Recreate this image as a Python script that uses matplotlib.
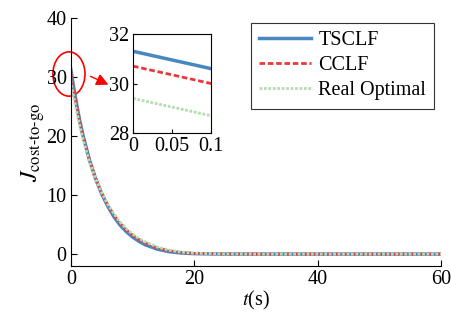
import numpy as np
import matplotlib
matplotlib.use('Agg')
import matplotlib.pyplot as plt
from matplotlib.patches import Ellipse

# data
t = [0, 0.05, 0.1, 0.5, 1, 1.5, 2, 3, 4, 5, 6, 7, 8, 9, 10, 11, 12, 14, 16, 18, 20, 25, 30, 40, 50, 60]
tsclf = [31.3, 30.95, 30.6, 28.0, 25.0, 22.3, 20.0, 16.0, 12.8, 10.2, 8.1, 6.3, 4.9, 3.8, 2.9, 2.2, 1.6,
         0.85, 0.4, 0.18, 0.08, 0.01, 0, 0, 0, 0]
cclf = [30.7, 30.35, 30.0, 27.6, 24.8, 22.2, 19.9, 16.0, 12.9, 10.4, 8.3, 6.6, 5.2, 4.1, 3.2, 2.5, 1.9,
        1.05, 0.55, 0.25, 0.12, 0.02, 0, 0, 0, 0]
real_opt = [29.4, 29.05, 28.7, 26.5, 23.9, 21.5, 19.4, 15.7, 12.8, 10.4, 8.4, 6.8, 5.4, 4.3, 3.4, 2.7, 2.1,
            1.2, 0.65, 0.32, 0.15, 0.03, 0, 0, 0, 0]
labels = ["TSCLF", "CCLF", "Real Optimal"]

plt.rcParams['font.family'] = ['Liberation Serif', 'DejaVu Serif']
plt.rcParams['mathtext.fontset'] = 'stix'
plt.rcParams['font.size'] = 14.5

blue = "#4a86c0"
red = "#e8383d"
green = "#b5dcb0"

fig = plt.figure(figsize=(4.51, 3.20), dpi=100)
ax = fig.add_axes([0.157, 0.169, 0.821, 0.775])

def draw(a):
    l1, = a.plot(t, tsclf, color=blue, lw=2.5, label=labels[0])
    l2, = a.plot(t, cclf, color=red, lw=2.0, ls=(0, (2, 1)), label=labels[1])
    l3, = a.plot(t, real_opt, color=green, lw=2.0, ls=(0, (1, 0.6)), label=labels[2])
    return l1, l2, l3

lines = draw(ax)
ax.set_xlim(0, 60)
ax.set_ylim(-2, 40)
ax.set_xticks([0, 20, 40, 60])
ax.set_yticks([0, 10, 20, 30, 40])
ax.spines['top'].set_visible(False)
ax.spines['right'].set_visible(False)
ax.tick_params(direction='in', length=4, pad=3)
ax.set_xlabel(r'$t$(s)', labelpad=0)
ax.set_ylabel(r'$J_{\mathrm{cost}\text{-}\mathrm{to}\text{-}\mathrm{go}}$', fontsize=17, labelpad=0)

leg = ax.legend(handles=lines, loc='upper right', bbox_to_anchor=(0.963, 0.928),
                bbox_transform=fig.transFigure, fancybox=False, edgecolor='#333333',
                framealpha=1, handlelength=2.6, handletextpad=0.35, borderpad=0.4,
                labelspacing=0.3, borderaxespad=0)
leg.get_frame().set_linewidth(0.8)

# red circle and arrow
ell = Ellipse((-0.3, 30.5), 5.2, 7.5, fill=False, edgecolor='red', lw=1.2, clip_on=False)
ax.add_patch(ell)
ax.annotate('', xy=(6.5, 28.5), xytext=(2.8, 30.3),
            arrowprops=dict(arrowstyle='-|>', color='red', lw=1.0, mutation_scale=18),
            annotation_clip=False)

# zoomed inset
ins = fig.add_axes([0.295, 0.584, 0.173, 0.310])
draw(ins)
ins.set_xlim(0, 0.1)
ins.set_ylim(28, 32)
ins.set_xticks([0, 0.05, 0.1])
ins.set_xticklabels(['0', '0.05', '0.1'])
ins.set_yticks([28, 30, 32])
ins.tick_params(direction='in', length=3, pad=3)

fig.savefig('out.png', dpi=100)
